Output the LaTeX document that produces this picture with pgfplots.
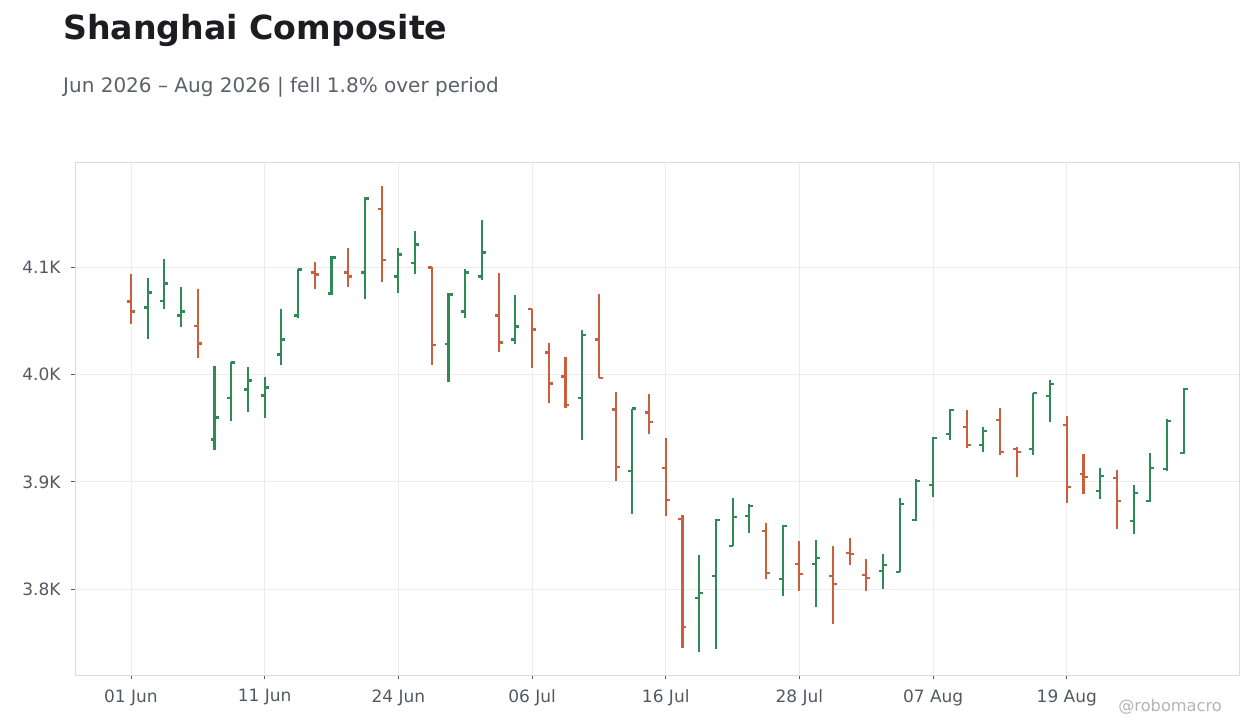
\documentclass[border=0pt]{standalone}
\usepackage{fontspec}
\setmainfont{DejaVu Sans}
\usepackage{pgfplots}
\pgfplotsset{compat=1.18}
\usepackage{pgfplotstable}
\definecolor{upc}{HTML}{2E8B57}
\definecolor{dnc}{HTML}{C95F3D}
\definecolor{titlec}{HTML}{1C1C21}
\definecolor{subc}{HTML}{5E6069}
\definecolor{tickc}{HTML}{555862}
\definecolor{gridc}{HTML}{ECECEC}
\definecolor{framec}{HTML}{DCDCDC}
\definecolor{wmc}{HTML}{B4B4B4}

\pgfdeclareplotmark{ohlcopen}{\pgfpathmoveto{\pgfpoint{-4bp}{0pt}}\pgfpathlineto{\pgfpoint{0pt}{0pt}}\pgfusepathqstroke}
\pgfdeclareplotmark{ohlcclose}{\pgfpathmoveto{\pgfpoint{0pt}{0pt}}\pgfpathlineto{\pgfpoint{4bp}{0pt}}\pgfusepathqstroke}

\pgfplotstableread{
i o h l c
1 4062.4 4090.1 4033.5 4076.4
2 4068.9 4107.8 4060.6 4084.8
3 4055.0 4081.7 4044.7 4058.7
5 3939.4 4008.1 3929.2 3959.9
6 3978.2 4011.5 3957.1 4011.2
7 3986.0 4007.1 3964.6 3994.4
8 3980.4 3997.8 3959.0 3987.9
9 4018.6 4061.2 4009.3 4032.6
10 4055.0 4098.1 4052.2 4097.8
12 4075.5 4110.6 4074.5 4109.0
14 4095.0 4165.5 4070.8 4164.0
16 4091.3 4118.0 4076.4 4111.8
17 4104.3 4133.8 4094.1 4121.1
19 4028.0 4075.8 3993.4 4074.5
20 4058.7 4098.4 4053.1 4095.0
21 4091.3 4144.1 4088.5 4113.7
23 4032.6 4074.2 4028.0 4044.7
27 3978.2 4041.6 3939.4 4037.2
30 3910.2 3968.3 3870.4 3968.3
34 3791.9 3831.7 3741.6 3796.6
35 3812.4 3864.9 3744.4 3864.6
36 3840.0 3884.8 3840.0 3867.4
37 3868.3 3878.9 3852.5 3877.6
39 3809.3 3859.3 3793.8 3859.0
41 3823.6 3845.6 3783.5 3829.2
45 3817.1 3832.6 3800.3 3822.6
46 3816.1 3884.8 3816.1 3879.5
47 3864.6 3902.5 3864.0 3900.9
48 3897.2 3941.6 3886.0 3941.0
49 3944.7 3967.4 3939.1 3966.8
51 3934.5 3950.9 3927.9 3947.5
54 3930.7 3983.2 3925.1 3982.9
55 3980.1 3994.7 3955.9 3991.3
58 3891.6 3912.7 3884.1 3905.6
60 3863.6 3896.9 3851.5 3889.7
61 3882.3 3926.7 3881.7 3913.0
62 3912.1 3958.1 3910.2 3956.8
63 3927.0 3987.0 3926.4 3986.3
}\upbars

\pgfplotstableread{
i o h l c
0 4068.0 4093.8 4046.6 4058.7
4 4045.6 4079.8 4015.8 4028.9
11 4095.0 4105.0 4079.2 4093.2
13 4095.0 4118.0 4081.1 4091.3
15 4154.6 4176.1 4086.6 4107.1
18 4099.7 4100.0 4008.4 4027.9
22 4055.0 4094.7 4020.5 4029.8
24 4060.9 4060.9 4006.5 4041.9
25 4020.5 4029.5 3973.0 3991.6
26 3998.1 4016.4 3969.2 3971.7
28 4032.6 4075.1 3996.5 3996.9
29 3967.4 3983.8 3901.2 3914.2
31 3964.6 3982.0 3945.0 3955.9
32 3913.2 3940.8 3868.5 3883.3
33 3865.5 3869.5 3745.3 3764.9
38 3854.3 3861.5 3809.3 3815.2
40 3823.6 3844.7 3798.4 3814.3
42 3812.4 3840.0 3767.7 3804.9
43 3833.8 3847.5 3822.6 3832.9
44 3813.3 3827.9 3798.4 3810.5
50 3950.9 3966.8 3931.7 3934.2
52 3957.8 3968.6 3925.1 3927.9
53 3930.7 3932.9 3904.6 3927.9
56 3953.1 3961.2 3880.4 3895.3
57 3907.4 3925.8 3888.8 3904.6
59 3903.7 3910.9 3856.2 3882.3
}\downbars

\begin{document}
\begin{tikzpicture}
\useasboundingbox (0,0) rectangle (1260bp,728bp);
\node[anchor=base west, inner sep=0pt, text=titlec, font=\fontsize{33.2bp}{40bp}\selectfont\bfseries] at (63bp,688bp) {Shanghai Composite};
\node[anchor=base west, inner sep=0pt, text=subc, font=\fontsize{20bp}{24bp}\selectfont] at (63bp,635bp) {Jun 2026 – Aug 2026 | fell 1.8\% over period};
\node[anchor=base, inner sep=0pt, text=wmc, font=\fontsize{16.2bp}{19bp}\selectfont] at (1170bp,17bp) {@robomacro};
\begin{axis}[
  at={(75bp,53bp)}, anchor=south west,
  scale only axis, width=1164bp, height=513bp,
  xmin=-3.35, xmax=66.3, ymin=3720, ymax=4198,
  axis line style={framec, line width=0.8bp},
  grid=major, major grid style={gridc, line width=0.8bp},
  xtick={0,8,16,24,32,40,48,56},
  xticklabels={01 Jun,11 Jun,24 Jun,06 Jul,16 Jul,28 Jul,07 Aug,19 Aug},
  ytick={3800,3900,4000,4100},
  yticklabels={3.8K,3.9K,4.0K,4.1K},
  tick align=outside, xtick pos=bottom, ytick pos=left,
  major tick length=4bp,
  tick style={tickc, line width=0.8bp},
  ticklabel style={text=tickc, font=\fontsize{17bp}{20bp}\selectfont},
  xticklabel style={yshift=-7bp},
  yticklabel style={xshift=-7bp},
  clip=false,
]
\addplot[upc, only marks, mark=ohlcopen, mark options={line width=2.1bp, line cap=butt},
  error bars/.cd, y dir=both, y explicit, error mark=none,
  error bar style={upc, line width=2.1bp, line cap=butt}]
  table[x=i, y=o, y error plus expr=\thisrow{h}-\thisrow{o}, y error minus expr=\thisrow{o}-\thisrow{l}] {\upbars};
\addplot[upc, only marks, mark=ohlcclose, mark options={line width=2.1bp, line cap=butt}]
  table[x=i, y=c] {\upbars};
\addplot[dnc, only marks, mark=ohlcopen, mark options={line width=2.1bp, line cap=butt},
  error bars/.cd, y dir=both, y explicit, error mark=none,
  error bar style={dnc, line width=2.1bp, line cap=butt}]
  table[x=i, y=o, y error plus expr=\thisrow{h}-\thisrow{o}, y error minus expr=\thisrow{o}-\thisrow{l}] {\downbars};
\addplot[dnc, only marks, mark=ohlcclose, mark options={line width=2.1bp, line cap=butt}]
  table[x=i, y=c] {\downbars};
\end{axis}
\end{tikzpicture}
\end{document}
